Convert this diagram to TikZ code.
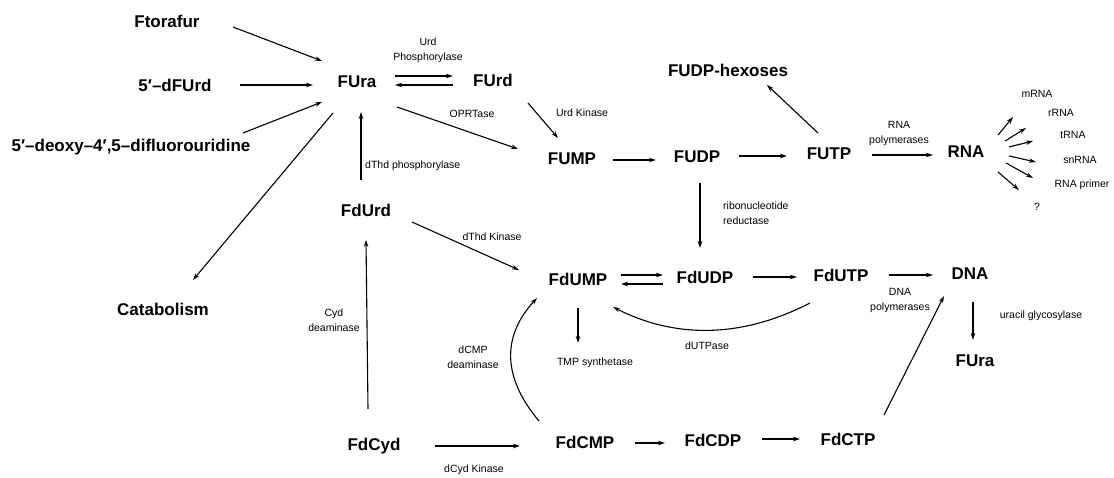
\documentclass[tikz,border=0pt]{standalone}
\usepackage{fontspec}
\setmainfont{Liberation Sans}
\usetikzlibrary{arrows.meta,calc}
\begin{document}
\begin{tikzpicture}[x=1pt,y=-1pt,
  big/.style={font=\fontsize{17}{20}\selectfont\bfseries, inner sep=0pt},
  lbl/.style={font=\fontsize{10.5}{15}\selectfont, inner sep=0pt, align=center},
  arr/.style={-{Stealth[length=7pt,width=4.5pt]}, line width=1.1pt}]
\fill[white] (0,0) rectangle (1114,478);
\useasboundingbox (0,0) rectangle (1114,478);

% main compounds
\node[big] (Ftor) at (167,21) {Ftorafur};
\node[big] (dFUrd) at (175,85) {5′–dFUrd};
\node[big] (dfl) at (131,147) {5′–deoxy–4′,5–difluorouridine};
\node[big] (FUra) at (357,82) {FUra};
\node[big] (FUrd) at (493,80) {FUrd};
\node[big] (hex) at (728,70) {FUDP-hexoses};
\node[big] (FUMP) at (572,159) {FUMP};
\node[big] (FUDP) at (697,157) {FUDP};
\node[big] (FUTP) at (829,154) {FUTP};
\node[big] (RNA) at (966,152) {RNA};
\node[big] (FdUrd) at (366,210) {FdUrd};
\node[big] (Cat) at (163,309) {Catabolism};
\node[big] (FdUMP) at (578,279) {FdUMP};
\node[big] (FdUDP) at (705,277) {FdUDP};
\node[big] (FdUTP) at (841,275) {FdUTP};
\node[big] (DNA) at (970,274) {DNA};
\node[big] (FUraB) at (975,361) {FUra};
\node[big] (FdCyd) at (374,446) {FdCyd};
\node[big] (FdCMP) at (585,442) {FdCMP};
\node[big] (FdCDP) at (713,440) {FdCDP};
\node[big] (FdCTP) at (848,439) {FdCTP};

% enzyme labels
\node[lbl] (urdp) at (428,50) {Urd\\Phosphorylase};
\node[lbl] (oprt) at (472,114) {OPRTase};
\node[lbl] (urdk) at (582,113) {Urd Kinase};
\node[lbl,anchor=west] (dthdp) at (365,166) {dThd phosphorylase};
\node[lbl] (rnap) at (899,133) {RNA\\polymerases};
\node[lbl,anchor=west,align=left] (rnr) at (723,213) {ribonucleotide\\reductase};
\node[lbl] (dthdk) at (492,237) {dThd Kinase};
\node[lbl] (cydd) at (334,320) {Cyd\\deaminase};
\node[lbl] (dcmpd) at (473,357) {dCMP\\deaminase};
\node[lbl] (TMP) at (595,363) {TMP synthetase};
\node[lbl] (dutp) at (707,346) {dUTPase};
\node[lbl] (dnap) at (900,300) {DNA\\polymerases};
\node[lbl] (ug) at (1041,316) {uracil glycosylase};
\node[lbl] (dcydk) at (474,470) {dCyd Kinase};
\node[lbl] (mRNA) at (1037,94) {mRNA};
\node[lbl] (rRNA) at (1061,113) {rRNA};
\node[lbl] (tRNA) at (1073,135) {tRNA};
\node[lbl] (snRNA) at (1080,160) {snRNA};
\node[lbl] (prim) at (1082,185) {RNA primer};
\node[lbl] (qm) at (1037,207) {?};

% connectors
\draw[arr] ($(Ftor)+(66,6)$) -- ($(FUra)+(-35,-21)$);
\draw[arr] ($(dFUrd)+(65,0)$) -- ($(FUra)+(-44,3)$);
\draw[arr] ($(dfl)+(112,-14)$) -- ($(FUra)+(-35,20)$);
\draw[arr] ($(FUra)+(-24,31)$) -- ($(Cat)+(30,-29)$);
\draw[arr] ($(FUra)+(38,-6)$) -- ($(FUrd)+(-40,-4)$);
\draw[arr] ($(FUrd)+(-40,5)$) -- ($(FUra)+(38,3)$);
\draw[arr] ($(FUra)+(40,25)$) -- ($(FUMP)+(-54,-10)$);
\draw[arr] ($(FUrd)+(35,23)$) -- ($(FUMP)+(-14,-21)$);
\draw[arr] ($(FUMP)+(41,1)$) -- ($(FUDP)+(-41,3)$);
\draw[arr] ($(FUDP)+(42,-1)$) -- ($(FUTP)+(-42,2)$);
\draw[arr] ($(FUTP)+(-11,-21)$) -- ($(hex)+(39,15)$);
\draw[arr] ($(FUTP)+(43,1)$) -- ($(RNA)+(-33,3)$);
\draw[arr] ($(RNA)+(32,-17)$) -- ($(RNA)+(47,-35)$);
\draw[arr] ($(RNA)+(39,-11)$) -- ($(RNA)+(60,-24)$);
\draw[arr] ($(RNA)+(43,-5)$) -- ($(RNA)+(67,-11)$);
\draw[arr] ($(RNA)+(43,4)$) -- ($(RNA)+(70,10)$);
\draw[arr] ($(RNA)+(40,11)$) -- ($(RNA)+(67,26)$);
\draw[arr] ($(RNA)+(32,20)$) -- ($(RNA)+(53,38)$);
\draw[arr] ($(FdUrd)+(-5,-30)$) -- ($(FUra)+(4,30)$);
\draw[arr] ($(FUDP)+(3,26)$) -- ($(FdUDP)+(-5,-29)$);
\draw[arr] ($(FdUrd)+(46,12)$) -- ($(FdUMP)+(-59,-9)$);
\draw[arr] ($(FdUMP)+(43,-4)$) -- ($(FdUDP)+(-42,-2)$);
\draw[arr] ($(FdUDP)+(-42,7)$) -- ($(FdUMP)+(43,5)$);
\draw[arr] ($(FdUDP)+(48,0)$) -- ($(FdUTP)+(-44,2)$);
\draw[arr] ($(FdUTP)+(48,0)$) -- ($(DNA)+(-37,1)$);
\draw[arr] ($(FdUTP)+(-31,28)$) .. controls ($(FdUTP)+(-99,63)$) and ($(FdUMP)+(98,60)$) .. ($(FdUMP)+(35,28)$);
\draw[arr] ($(FdUMP)+(0,29)$) -- ($(TMP)+(-17,-20)$);
\draw[arr] ($(DNA)+(3,28)$) -- ($(FUraB)+(-2,-21)$);
\draw[arr] ($(FdCyd)+(-6,-37)$) -- ($(FdUrd)+(0,30)$);
\draw[arr] ($(FdCyd)+(61,0)$) -- ($(FdCMP)+(-65,4)$);
\draw[arr] ($(FdCMP)+(-46,-21)$) .. controls ($(FdCMP)+(-83,-65)$) and ($(FdUMP)+(-76,57)$) .. ($(FdUMP)+(-41,19)$);
\draw[arr] ($(FdCMP)+(50,1)$) -- ($(FdCDP)+(-48,3)$);
\draw[arr] ($(FdCDP)+(49,-1)$) -- ($(FdCTP)+(-48,0)$);
\draw[arr] ($(FdCTP)+(36,-24)$) -- ($(DNA)+(-26,22)$);
\end{tikzpicture}
\end{document}
